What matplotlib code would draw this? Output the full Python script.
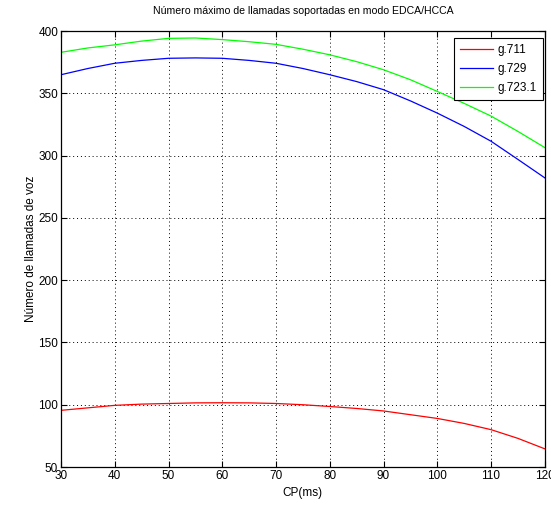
import numpy as np
import matplotlib
matplotlib.use("Agg")
from matplotlib import pyplot as plt

plt.rcParams['font.family'] = ['Liberation Sans Narrow', 'Liberation Sans', 'DejaVu Sans']

cp = [30, 35, 40, 45, 50, 55, 60, 65, 70, 75, 80, 85, 90, 95, 100, 105, 110, 115, 120]
g711 = [95.5, 97.5, 99.5, 100.5, 101, 101.5, 101.6, 101.5, 101, 100, 98.6, 97, 95, 92,
        89, 85, 80, 73, 64.6]
g729 = [365, 370, 374.2, 376.5, 378.2, 378.5, 378.2, 376.5, 374.2, 370, 365, 359.5, 353,
        344, 334.2, 323.5, 311.6, 297, 282.2]
g7231 = [383, 386.5, 389, 392, 394.2, 394.5, 393.2, 391.5, 389.4, 385.5, 381, 375.5, 369,
         361, 351.6, 342, 331.8, 319.5, 306.5]

fig = plt.figure(figsize=(5.51, 5.08), dpi=100)
ax = fig.add_axes([0.1107, 0.0807, 0.878, 0.858])

ax.plot(cp, g711, color='#ff0000', lw=0.9, label='g.711')
ax.plot(cp, g729, color='#0000ff', lw=0.9, label='g.729')
ax.plot(cp, g7231, color='#00ff00', lw=0.9, label='g.723.1')

ax.set_xlim(30, 120)
ax.set_ylim(50, 400)
ax.set_xticks(np.arange(30, 121, 10))
ax.set_yticks(np.arange(50, 401, 50))
ax.grid(True, color='black', linestyle=(0, (1, 3)), linewidth=0.7)
ax.tick_params(direction='in', top=True, right=True, length=4, width=0.8,
               labelsize=8.5, pad=2)
for s in ax.spines.values():
    s.set_linewidth(0.9)

ax.set_title('Número máximo de llamadas soportadas en modo EDCA/HCCA', fontsize=7.6, pad=12)
ax.set_xlabel('CP(ms)', fontsize=8.5, labelpad=4)
ax.set_ylabel('Número de llamadas de voz', fontsize=8.5, labelpad=1)

leg = ax.legend(loc='upper right', fontsize=8.5, fancybox=False, framealpha=1,
                edgecolor='black', handlelength=2.8, handletextpad=0.4,
                borderpad=0.5, labelspacing=0.6, borderaxespad=0,
                bbox_to_anchor=(0.996, 0.984))
leg.get_frame().set_linewidth(0.8)

fig.savefig('out.png', dpi=100)
